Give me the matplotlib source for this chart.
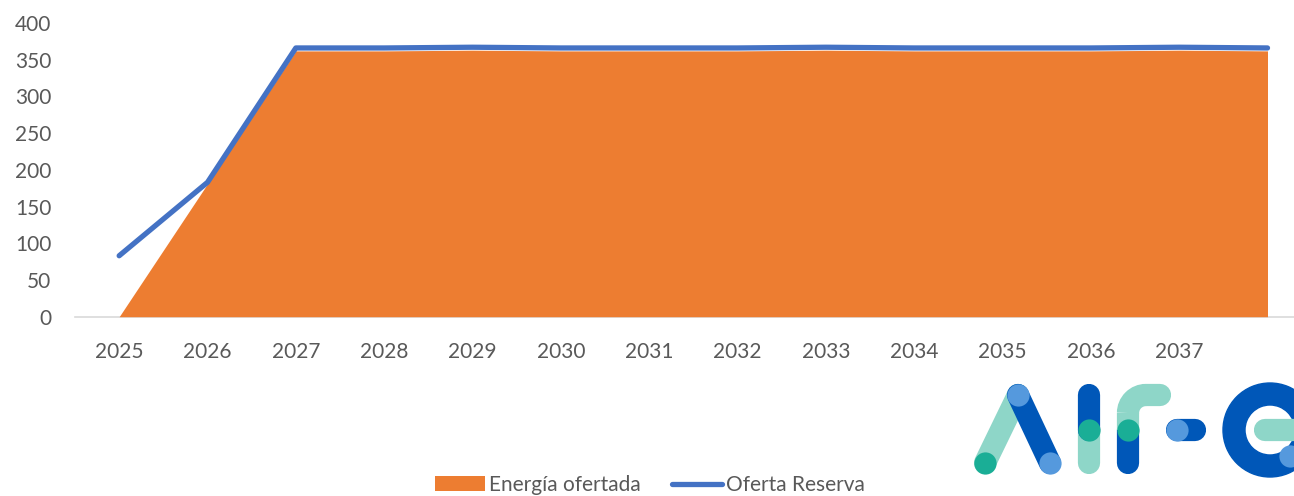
import matplotlib
matplotlib.use("Agg")
import matplotlib.pyplot as plt
from matplotlib.patches import Patch, Wedge, Arc
from matplotlib.lines import Line2D

# ---- data ----
years = ["2025", "2026", "2027", "2028", "2029", "2030", "2031",
         "2032", "2033", "2034", "2035", "2036", "2037", ""]
energia_ofertada = [0, 181, 362, 362, 363, 362, 362, 362, 363, 362, 362, 362, 363, 362]
oferta_reserva = [83, 183, 366, 366, 367, 366, 366, 366, 367, 366, 366, 366, 367, 366]
yticks = [0, 50, 100, 150, 200, 250, 300, 350, 400]

plt.rcParams['font.family'] = ['Lato', 'DejaVu Sans']
TXT = '#595959'
ORANGE = '#ED7D31'
BLUE = '#4472C4'
FS = 15

W, H = 1294, 496
fig = plt.figure(figsize=(W / 100, H / 100), dpi=100)
ax = fig.add_axes([75 / W, (H - 316.7) / H, (W - 75) / W, (316.7 - 23) / H])

x = list(range(len(years)))
ax.fill_between(x, energia_ofertada, 0, color=ORANGE, linewidth=0, zorder=2)
ax.plot(x, oferta_reserva, color=BLUE, lw=3.8, solid_capstyle='round',
        solid_joinstyle='round', zorder=3)

ax.set_xlim(-0.5, 13.3)
ax.set_ylim(0, 400)
ax.set_xticks(x)
ax.set_xticklabels(years)
ax.set_yticks(yticks)
ax.tick_params(axis='both', length=0, labelsize=FS, labelcolor=TXT)
ax.tick_params(axis='y', pad=17)
ax.tick_params(axis='x', pad=18)
for s in ['top', 'right', 'left']:
    ax.spines[s].set_visible(False)
ax.spines['bottom'].set_color('#D9D9D9')
ax.spines['bottom'].set_linewidth(1.2)
ax.spines['bottom'].set_zorder(1)

handles = [Patch(facecolor=ORANGE, edgecolor='none', label='Energía ofertada'),
           Line2D([0], [0], color=BLUE, lw=3.8, solid_capstyle='round', label='Oferta Reserva')]
fig.legend(handles=handles, loc='center', bbox_to_anchor=(650 / W, 1 - 485 / H),
           ncol=2, frameon=False, fontsize=FS, handlelength=2.4, handletextpad=0.2,
           columnspacing=1.5, borderpad=0, labelcolor=TXT)

# ---- logo (decoration) in pixel coordinates ----
lg = fig.add_axes([0, 0, 1, 1], zorder=9)
lg.set_xlim(0, W)
lg.set_ylim(H, 0)
lg.axis('off')
lg.patch.set_alpha(0)
TEAL = '#8ED6C8'
DARK = '#0057B8'
LBLUE = '#5599DD'
GREEN = '#1AAE96'
lwp = 16
def seg(x0, y0, x1, y1, c, a=1.0, z=1):
    lg.plot([x0, x1], [y0, y1], color=c, lw=lwp, solid_capstyle='round', alpha=a, zorder=z)
def dot(x0, y0, c, z=5):
    lg.plot([x0], [y0], 'o', ms=lwp, color=c, mec='none', zorder=z)
# A
seg(985, 463, 1018, 395, TEAL)
seg(1018, 395, 1050, 463, DARK, z=2)
dot(985, 463, GREEN); dot(1018, 395, LBLUE); dot(1050, 463, LBLUE)
# I
seg(1089, 430, 1089, 463, TEAL); seg(1089, 395, 1089, 430, DARK)
dot(1089, 430, GREEN)
# r
seg(1128, 430, 1128, 463, DARK)
lg.plot([1128, 1128], [430, 413], color=TEAL, lw=lwp, solid_capstyle='butt', zorder=1)
lg.add_patch(Arc((1146, 413), 36, 36, theta1=180, theta2=270, lw=lwp, color=TEAL, zorder=1))
seg(1146, 395, 1160, 395, TEAL)
dot(1128, 430, GREEN)
# -
seg(1177, 430, 1195, 430, DARK); dot(1177, 430, LBLUE)
# e
lg.add_patch(Wedge((1270, 430), 47, 0, 360, width=22, color=DARK, zorder=1))
seg(1265, 430, 1300, 430, TEAL, z=3)
dot(1290, 456, LBLUE)

fig.savefig('out.png', dpi=100)
